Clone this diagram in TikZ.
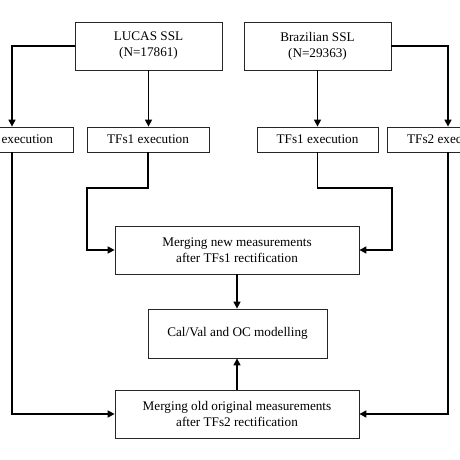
\documentclass[tikz,border=0pt]{standalone}
\usepackage{fontspec}
\setmainfont{Liberation Serif}
\usetikzlibrary{arrows.meta}
\begin{document}
\begin{tikzpicture}[x=1pt,y=-1pt,
  box/.style={draw=black!85, line width=0.8pt, fill=white, align=center, inner sep=0pt,
    font=\fontsize{13.2}{16}\selectfont},
  arr/.style={draw=black, line width=1.5pt, -{Triangle[length=7pt,width=7pt]}}]
\useasboundingbox (0,0) rectangle (460,460);
\clip (0,0) rectangle (460,460);
\node[box, minimum width=147pt, minimum height=48pt] (lucas) at (148.5,46) {LUCAS SSL\\(N=17861)};
\node[box, minimum width=147pt, minimum height=48pt] (braz) at (317.5,46) {Brazilian SSL\\(N=29363)};
\node[box, minimum width=122pt, minimum height=25pt] (tfsl) at (148,139.5) {TFs1 execution};
\node[box, minimum width=121pt, minimum height=25pt] (tfsr) at (317.5,139.5) {TFs1 execution};
\node[box, minimum width=122pt, minimum height=25pt] (tftl) at (12,139.5) {TFs2 execution};
\node[box, minimum width=122pt, minimum height=25pt] (tftr) at (448,139.5) {TFs2 execution};
\node[box, minimum width=244pt, minimum height=48pt] (mnew) at (237,250) {Merging new measurements\\after TFs1 rectification};
\node[box, minimum width=179pt, minimum height=49pt] (cal) at (237.5,333.5) {Cal/Val and OC modelling};
\node[box, minimum width=244pt, minimum height=48pt] (mold) at (237,414) {Merging old original measurements\\after TFs2 rectification};
\coordinate (c1) at (87,188);
\coordinate (c2) at (392,188);
\draw[arr] (lucas.west) -| (tftl.north);
\draw[arr] (lucas.south) -- (lucas.south |- tfsl.north);
\draw[arr] (braz.east) -| (tftr.north);
\draw[arr] (braz.south) -- (braz.south |- tfsr.north);
\draw[arr] (tfsl.south) |- (c1) |- (mnew.west);
\draw[arr] (tfsr.south) |- (c2) |- (mnew.east);
\draw[arr] (tftl.south) |- (mold.west);
\draw[arr] (tftr.south) |- (mold.east);
\draw[arr] (mnew.south) -- (mnew.south |- cal.north);
\draw[arr] (mold.north) -- (mold.north |- cal.south);
\end{tikzpicture}
\end{document}
